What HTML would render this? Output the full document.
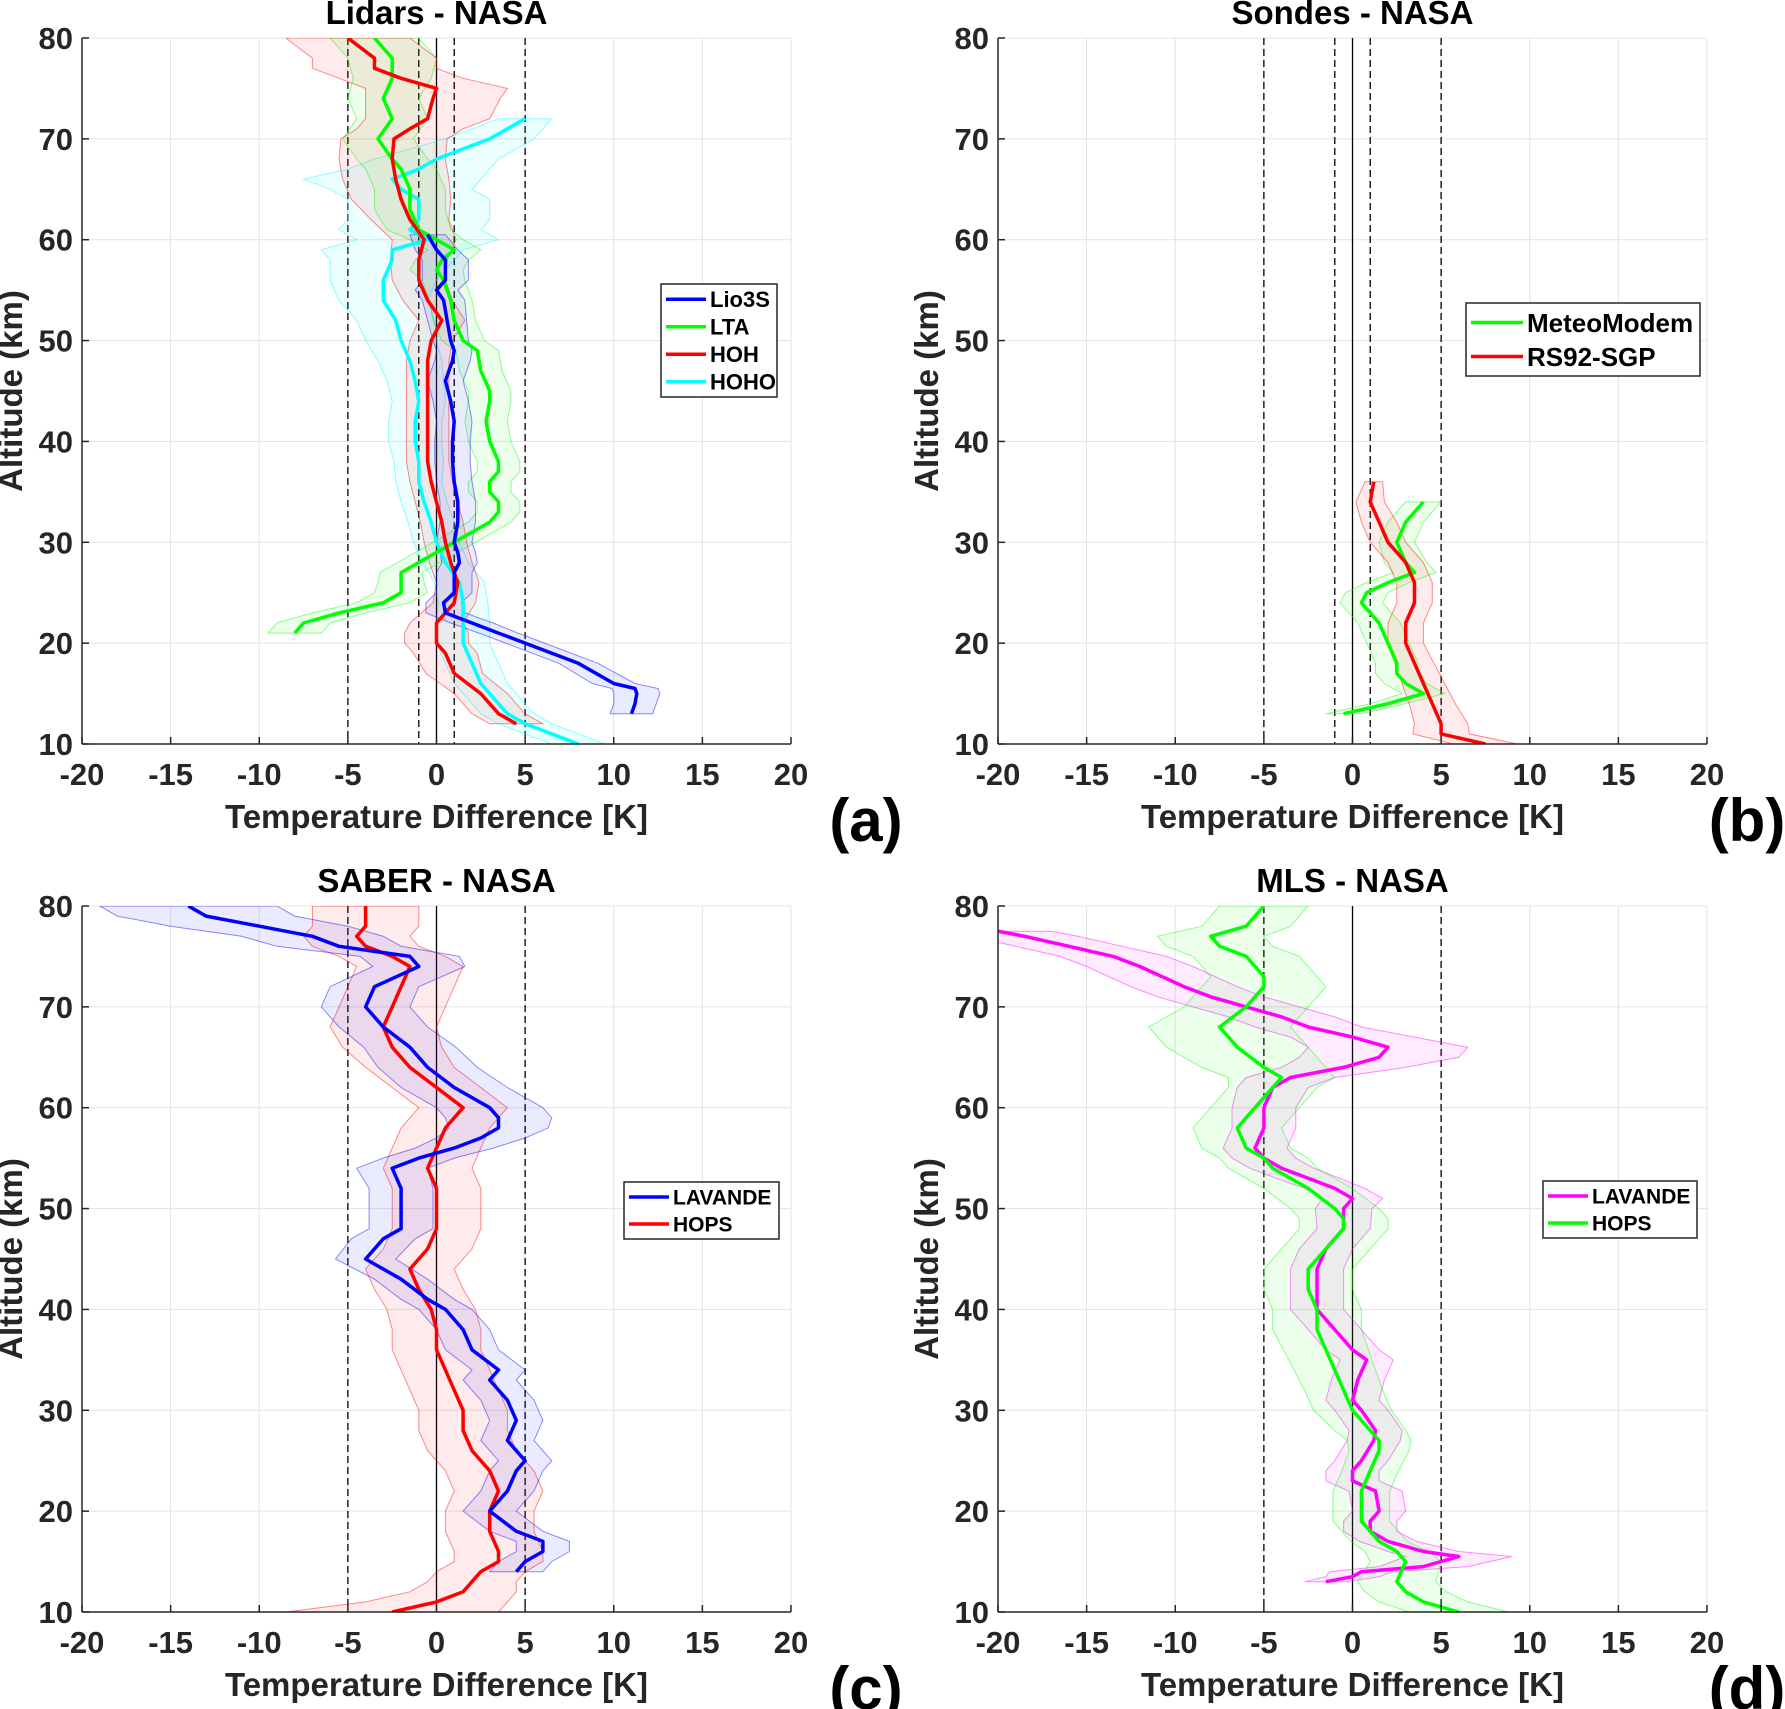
<!DOCTYPE html>
<html><head><meta charset="utf-8">
<style>
html,body{margin:0;padding:0;background:#fff;}
svg{display:block;font-family:"Liberation Sans",Arial,sans-serif;}
</style></head>
<body>
<svg id="fig" width="1785" height="1709" viewBox="0 0 1785 1709" xmlns="http://www.w3.org/2000/svg"></svg>
<script>
// ---------- Data ----------
const xTicks = [-20,-15,-10,-5,0,5,10,15,20];
const yTicks = [10,20,30,40,50,60,70,80];

// Panel (a)
const lio3sAlt = [13,14,15,15.5,16,18,20,21,22,23,24,25,26,27,28,29,30,32,34,36,38,40,42,44,46,48,49,50,52,54,55,56,57,58,59,60.5];
const lio3sVal = [11,11.2,11.3,11.2,10,8,5,3.5,2,0.5,0.4,1,1,1,1.3,1.2,1,1.2,1.2,1,0.9,0.9,1,0.8,0.5,0.9,1,0.8,0.6,0.4,0,0.5,0.5,0.5,0,-0.5];
const lio3sSpr = [1.2,1.2,1.3,1.3,1.2,1.1,1.1,1.1,1.2,1.1,1,1,1,1,1,1,1,1,1,1,1,1,1,1,1,1,1,1,1.1,1.2,1.2,1.3,1.3,1.3,1.2,1];

const ltaAlt = [21,22,23,24,25,26,27,28,29,30,31,32,33,34,35,36,37,38,40,42,44,45,47,49,50,52,54,56,57,58,59,60,61,63,65,67,68,70,72,74,76,78,79,80];
const ltaVal = [-8,-7.5,-5.5,-3,-2,-2,-2,-1,0,1,2,3,3.5,3.5,3,3,3.5,3.5,3,2.8,3,3,2.5,2.3,1.5,1,0.8,0.4,0,0.3,1,0,-1,-1.5,-1.5,-2,-2.5,-3.3,-2.5,-3,-2.5,-2.5,-3,-3.5];
const ltaSpr = [1.5,1.5,1.5,1.5,1.5,1.3,1.2,1.2,1.2,1.2,1.2,1.2,1.2,1.2,1.2,1.2,1.2,1.2,1.2,1.2,1.2,1.2,1.2,1.2,1.2,1.2,1.2,1.2,1.5,1.5,1.5,1.5,1.8,2,2,2,2,2,2,2,2.2,2.5,2.5,2.5];

const hohAlt = [12,13,15,17,19,20,21,22,24,26,28,30,32,34,36,38,40,44,48,50,52,54,56,58,60,62,64,66,68,70,71,72,74,75,76,77,78,80];
const hohVal = [4.5,3.5,2.5,1,0.5,0,0,0,1,1.2,0.8,0.5,0.3,0,-0.3,-0.5,-0.5,-0.5,-0.5,-0.3,0.3,-0.5,-1,-1,-0.7,-1.5,-2,-2.3,-2.5,-2.4,-1.5,-0.5,-0.2,0,-2,-3.5,-3.5,-5];
const hohSpr = [1.5,1.5,1.5,1.6,1.8,1.8,1.8,1.5,1.2,1.2,1.2,1.2,1.2,1.2,1.2,1.2,1.2,1.2,1.2,1.2,1.3,1.4,1.5,1.6,1.8,2.2,2.8,3,3,3,3,3.5,3.8,4,3.5,3.5,3.5,3.5];

const hohoAlt = [10,11,12,13,14,16,18,20,22,24,26,28,30,32,34,36,38,40,42,44,46,48,50,52,54,56,58,59,60,61,62,64,65,66,67,68,69,70,71,72];
const hohoVal = [8,6.5,5,4,3.5,2.5,2,1.5,1.5,1.5,1.3,0.5,0,-0.3,-0.7,-1,-1,-1.2,-1.2,-1,-1.2,-1.5,-2,-2.3,-3,-3,-2.5,-2.5,-0.5,-1.5,-1,-1,-2,-2.5,-1,0,1.5,3,4,5];
const hohoSpr = [1.5,1.5,1.5,1.5,1.5,1.5,1.5,1.5,1.5,1.4,1.4,1.3,1.3,1.3,1.3,1.3,1.4,1.5,1.5,1.5,1.6,1.8,2,2.2,2.5,3,3.5,4,4,4,4,4,4,5,4,3.5,3,2.5,2,1.5];

// Panel (b)
const mmAlt = [13,14,15,16,17,18,20,22,24,25,26,27,28,30,32,33,34];
const mmVal = [-0.5,2,4,3,2.5,2.5,2,1.5,0.5,0.8,2,3.5,3,2.5,3,3.5,4];
const mmSpr = [1,1,1.2,1.2,1.2,1.2,1.2,1.2,1.2,1.2,1.2,1.2,1.2,1,1,1,1];

const rsAlt = [10,11,12,14,16,18,20,22,24,26,28,30,32,34,36];
const rsVal = [7.5,5,5,4.5,4,3.5,3,3,3.5,3.5,3,2,1.5,1,1.2];
const rsSpr = [1.8,1.6,1.5,1.3,1.2,1.1,1,1,1,1,1,1,1,0.8,0.5];

// Panel (c)
const cLavAlt = [14,15,16,17,18,20,22,24,25,27,29,31,33,34,36,38,40,41,43,45,47,48,50,52,54,55,56,57,58,59,60,62,64,66,68,70,72,74,75,76,77,78,79,80];
const cLavVal = [4.5,5,6,6,4.5,3,4,4.5,5,4,4.5,4,3,3.5,2,1.5,0.5,-0.5,-2,-4,-3,-2,-2,-2,-2.5,-1,1,2.5,3.5,3.5,3,1,-0.5,-1.5,-3,-4,-3.5,-1,-1.5,-5.5,-7,-10,-13,-14];
const cLavSpr = [1.5,1.5,1.5,1.5,1.5,1.5,1.5,1.5,1.5,1.5,1.5,1.5,1.5,1.5,1.5,1.5,1.5,1.5,1.5,1.7,1.8,1.8,1.8,1.8,2,2,2.2,2.5,2.8,3,3,3,2.8,2.6,2.5,2.5,2.5,2.6,2.8,3.5,4,5,5,5];

const cHopsAlt = [10,11,12,13,14,15,16,18,20,22,24,26,28,30,32,34,36,38,40,42,44,46,48,50,52,54,56,58,60,62,64,66,68,70,72,74,75,76,77,78,80];
const cHopsVal = [-2.5,0,1.5,2,2.5,3.5,3.5,3,3,3.5,3,2,1.5,1.5,1,0.5,0,0,-0.3,-1,-1.5,-0.5,0,0,0,-0.5,0,0.5,1.5,0,-1.5,-2.5,-3,-2.5,-2,-1.5,-2.5,-4,-4.5,-4,-4];
const cHopsSpr = [6,4,3,2.5,2.5,2.5,2.5,2.5,2.5,2.5,2.5,2.5,2.5,2.5,2.5,2.5,2.5,2.5,2.5,2.5,2.5,2.5,2.5,2.5,2.5,2.5,2.5,2.5,2.5,2.5,2.5,2.8,3,3,3,3,3,3,3,3,3];

// Panel (d)
const dLavAlt = [13,13.5,14,14.5,15.5,16,17,18,19,20,22,23,24,25,27,28,30,31,33,35,36,37,38,40,42,44,46,48,50,51,52,53,54,55,56,58,60,62,63,64,65,66,67,68,69,70,71,72,74,75,76,77,77.5];
const dLavVal = [-1.5,0,0.5,4,6,4,2,1,1,1.5,1.3,0,0,0.5,1.2,1.3,0.5,0,0.3,0.8,0,-0.5,-1,-2,-2,-2,-1.5,-0.5,-0.5,0,-1,-2.5,-4,-5,-5.5,-5,-5,-4.5,-3.5,-0.5,1.5,2,0,-2.5,-4,-6,-8,-9.5,-12,-13.5,-16,-18.5,-20];
const dLavSpr = [1.2,1.5,1.8,2.5,3,2,1.6,1.5,1.5,1.5,1.5,1.5,1.5,1.5,1.5,1.5,1.5,1.5,1.5,1.5,1.5,1.5,1.5,1.5,1.5,1.5,1.5,1.5,1.6,1.7,1.7,1.8,1.8,1.8,1.8,1.8,1.8,2,2.5,3.5,4.5,4.5,3.5,3,3,3,3,3,3,3,3,3,3];

const dHopsAlt = [10,11,12,13,15,16,17,18,19,20,22,24,26,27,28,30,32,34,36,38,40,42,44,46,48,49,50,52,54,55,56,58,60,62,63,64,66,68,70,72,73,75,76,77,78,80];
const dHopsVal = [6,4,3,2.5,3,2.5,1.5,1,0.5,0.5,0.5,1,1.5,1.5,1,0,-0.5,-1,-1.5,-2,-2,-2.5,-2.5,-1.5,-0.5,-0.5,-1,-2.5,-4.5,-5,-6,-6.5,-5.5,-4.5,-4,-5,-6.5,-7.5,-6,-5,-5,-6,-7.5,-8,-6,-5];
const dHopsSpr = [2.8,2.5,2.3,2.2,2,1.8,1.6,1.6,1.6,1.6,1.6,1.6,1.7,1.8,2,2.2,2.2,2.3,2.4,2.5,2.5,2.5,2.5,2.5,2.5,2.5,2.5,2.5,2.5,2.5,2.5,2.5,2.5,2.5,3,3.5,4,4,3.5,3.5,3,3,3,3,2.5,2.5];

// ---------- Rendering ----------
const NS = "http://www.w3.org/2000/svg";
const svg = document.getElementById('fig');
function mk(tag, attrs, parent){
  const e = document.createElementNS(NS, tag);
  for (const k in attrs) e.setAttribute(k, attrs[k]);
  (parent||svg).appendChild(e);
  return e;
}

const panels = [
  {id:'a', title:'Lidars - NASA', x0:82, x1:791, y0:38, y1:744, dashed:[-5,-1,1,5], labelX:866,
   series:[
     {name:'hoho', label:'HOHO', color:'#00ffff', alt:hohoAlt, val:hohoVal, spr:hohoSpr},
     {name:'lta', label:'LTA', color:'#00ff00', alt:ltaAlt, val:ltaVal, spr:ltaSpr},
     {name:'hoh', label:'HOH', color:'#ff0000', alt:hohAlt, val:hohVal, spr:hohSpr},
     {name:'lio3s', label:'Lio3S', color:'#0000ff', alt:lio3sAlt, val:lio3sVal, spr:lio3sSpr}],
   legendOrder:['lio3s','lta','hoh','hoho'],
   legend:{x:661,y:284,w:116,h:113,font:22,rowH:27.5,lineW:40}},
  {id:'b', title:'Sondes - NASA', x0:998, x1:1707, y0:38, y1:744, dashed:[-5,-1,1,5], labelX:1747,
   series:[
     {name:'meteomodem', label:'MeteoModem', color:'#00ff00', alt:mmAlt, val:mmVal, spr:mmSpr},
     {name:'rs92-sgp', label:'RS92-SGP', color:'#ff0000', alt:rsAlt, val:rsVal, spr:rsSpr}],
   legendOrder:['meteomodem','rs92-sgp'],
   legend:{x:1466,y:303,w:234,h:73,font:26,rowH:34,lineW:52}},
  {id:'c', title:'SABER - NASA', x0:82, x1:791, y0:906, y1:1612, dashed:[-5,5], labelX:866,
   series:[
     {name:'hops', label:'HOPS', color:'#ff0000', alt:cHopsAlt, val:cHopsVal, spr:cHopsSpr},
     {name:'lavande', label:'LAVANDE', color:'#0000ff', alt:cLavAlt, val:cLavVal, spr:cLavSpr}],
   legendOrder:['lavande','hops'],
   legend:{x:624,y:1182,w:155,h:57,font:21,rowH:27,lineW:40}},
  {id:'d', title:'MLS - NASA', x0:998, x1:1707, y0:906, y1:1612, dashed:[-5,5], labelX:1747,
   series:[
     {name:'lavande', label:'LAVANDE', color:'#ff00ff', alt:dLavAlt, val:dLavVal, spr:dLavSpr},
     {name:'hops', label:'HOPS', color:'#00ff00', alt:dHopsAlt, val:dHopsVal, spr:dHopsSpr}],
   legendOrder:['lavande','hops'],
   legend:{x:1543,y:1181,w:154,h:57,font:21,rowH:27,lineW:40}}
];

panels.forEach(p => {
  const g = mk('g', {});
  
  
  const xs = v => p.x0 + (v + 20) / 40 * (p.x1 - p.x0);
  const ys = a => p.y1 - (a - 10) / 70 * (p.y1 - p.y0);
  const clipId = 'clip' + p.id;
  const cp = mk('clipPath', {id: clipId}, g);
  mk('rect', {x:p.x0, y:p.y0, width:p.x1-p.x0, height:p.y1-p.y0}, cp);

  const grid = mk('g', {stroke:'#e3e3e3', 'stroke-width':1}, g);
  
  
  xTicks.forEach(t => { if (t>-20) mk('line', {x1:xs(t), x2:xs(t), y1:p.y0, y2:p.y1}, grid); });
  yTicks.forEach(t => { if (t>10) mk('line', {x1:p.x0, x2:p.x1, y1:ys(t), y2:ys(t)}, grid); });

  const ref = mk('g', {}, g);
  
  
  mk('line', {x1:xs(0), x2:xs(0), y1:p.y0, y2:p.y1, stroke:'#000', 'stroke-width':1.3}, ref);
  p.dashed.forEach(d => {
    mk('line', {x1:xs(d), x2:xs(d), y1:p.y0, y2:p.y1, stroke:'#000', 'stroke-width':1.3, 'stroke-dasharray':'7,4'}, ref);
  });

  const sg = mk('g', {'clip-path':'url(#'+clipId+')'}, g);
  p.series.forEach(s => {
    const n = s.alt.length;
    let up = [], lo = [];
    for (let i=0;i<n;i++){
      up.push(xs(s.val[i]+s.spr[i]).toFixed(1)+','+ys(s.alt[i]).toFixed(1));
      lo.push(xs(s.val[i]-s.spr[i]).toFixed(1)+','+ys(s.alt[i]).toFixed(1));
    }
    const band = mk('polygon', {points: up.concat(lo.reverse()).join(' '), fill:s.color, 'fill-opacity':0.08, stroke:s.color, 'stroke-opacity':0.45, 'stroke-width':1}, sg);
    
    
  });
  p.series.forEach(s => {
    const pts = s.alt.map((a,i) => xs(s.val[i]).toFixed(1)+','+ys(a).toFixed(1)).join(' ');
    const line = mk('polyline', {points:pts, fill:'none', stroke:s.color, 'stroke-width':3.5, 'stroke-linejoin':'round'}, sg);
    
    
  });

  const ax = mk('g', {stroke:'#262626', 'stroke-width':1.5, fill:'none'}, g);
  
  
  mk('line', {x1:p.x0, x2:p.x0, y1:p.y0, y2:p.y1}, ax);
  mk('line', {x1:p.x0, x2:p.x1, y1:p.y1, y2:p.y1}, ax);
  xTicks.forEach(t => mk('line', {x1:xs(t), x2:xs(t), y1:p.y1, y2:p.y1-7}, ax));
  yTicks.forEach(t => mk('line', {x1:p.x0, x2:p.x0+7, y1:ys(t), y2:ys(t)}, ax));

  const xt = mk('g', {'font-size':31, 'font-weight':'bold', fill:'#262626', 'text-anchor':'middle'}, g);
  
  
  xTicks.forEach(t => { const e = mk('text', {x:xs(t), y:p.y1+41}, xt); e.textContent = t; });
  const yt = mk('g', {'font-size':31, 'font-weight':'bold', fill:'#262626', 'text-anchor':'end'}, g);
  
  
  yTicks.forEach(t => { const e = mk('text', {x:p.x0-9, y:ys(t)+11}, yt); e.textContent = t; });

  const cx = (p.x0+p.x1)/2;
  const ti = mk('text', {x:cx, y:p.y0-14, 'font-size':33, 'font-weight':'bold', 'text-anchor':'middle', fill:'#000'}, g);
  ti.textContent = p.title;
  
  
  const xl = mk('text', {x:cx, y:p.y1+84, 'font-size':33, 'font-weight':'bold', 'text-anchor':'middle', fill:'#262626'}, g);
  xl.textContent = 'Temperature Difference [K]';
  
  
  const ylx = p.x0 - 60, yly = (p.y0+p.y1)/2;
  const yl = mk('text', {x:ylx, y:yly, 'font-size':33, 'font-weight':'bold', 'text-anchor':'middle', fill:'#262626', transform:'rotate(-90 '+ylx+' '+yly+')'}, g);
  yl.textContent = 'Altitude (km)';
  
  
  const pl = mk('text', {x:p.labelX, y:p.y1+97, 'font-size':60, 'font-weight':'bold', 'text-anchor':'middle', fill:'#000'}, g);
  pl.textContent = '(' + p.id + ')';
  
  

  const L = p.legend;
  const lg = mk('g', {}, g);
  
  
  mk('rect', {x:L.x, y:L.y, width:L.w, height:L.h, fill:'#fff', stroke:'#262626', 'stroke-width':1.5}, lg);
  p.legendOrder.forEach((nm, i) => {
    const s = p.series.find(q => q.name === nm);
    const ry = L.y + (L.h - L.rowH*p.legendOrder.length)/2 + L.rowH*(i+0.5);
    const eg = mk('g', {}, lg);
    
    
    mk('line', {x1:L.x+5, x2:L.x+5+L.lineW, y1:ry, y2:ry, stroke:s.color, 'stroke-width':3.5}, eg);
    const t = mk('text', {x:L.x+9+L.lineW, y:ry+L.font*0.36, 'font-size':L.font, 'font-weight':'bold', fill:'#000'}, eg);
    t.textContent = s.label;
  });
});
</script>
</body></html>
